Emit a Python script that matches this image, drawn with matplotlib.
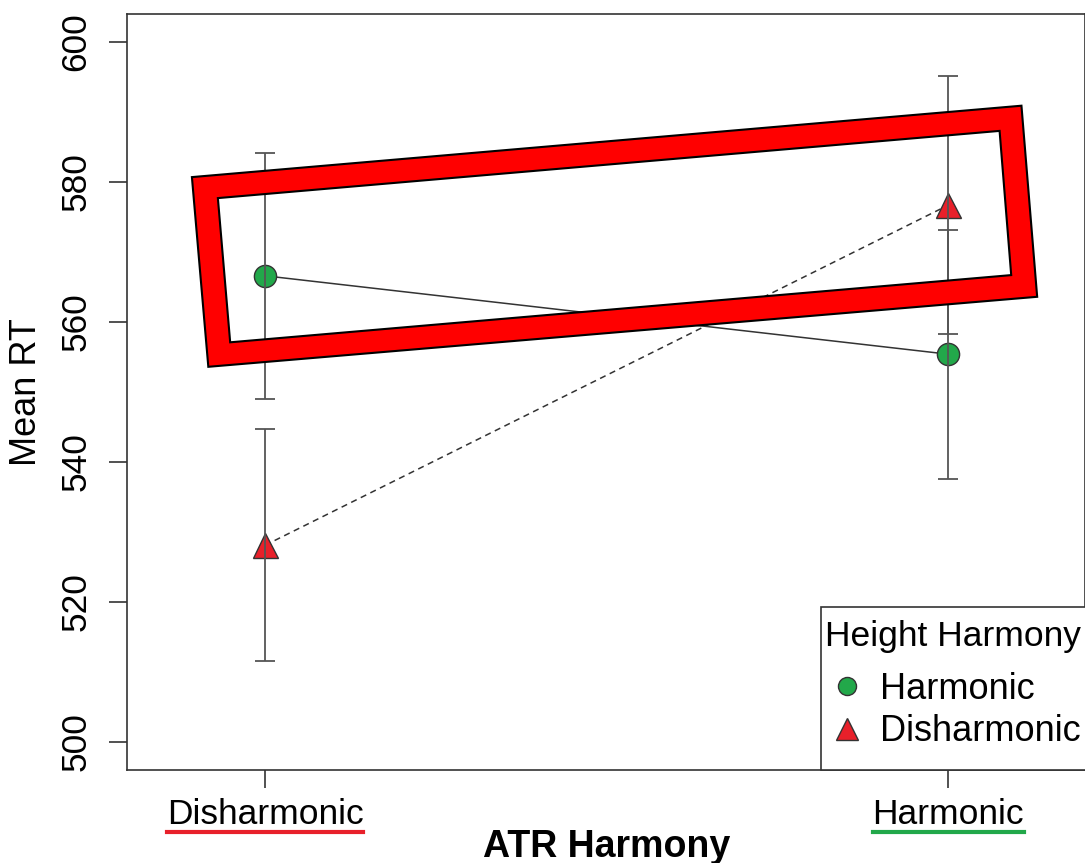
import numpy as np
import matplotlib
matplotlib.use("Agg")
import matplotlib.pyplot as plt
from matplotlib.path import Path
from matplotlib.patches import PathPatch, Rectangle
from matplotlib.lines import Line2D

plt.rcParams["font.family"] = ["Liberation Sans", "DejaVu Sans"]

# Data
atr_levels = ["Disharmonic", "Harmonic"]
x_pos = [1, 2]
harmonic_mean = [566.6, 555.4]
harmonic_err = [17.6, 17.8]
disharmonic_mean = [528.1, 576.7]
disharmonic_err = [16.6, 18.4]
underline_colors = ["#E8202A", "#22A84A"]

green = "#22A84A"
red = "#E8202A"

fig = plt.figure(figsize=(10.85, 8.63), dpi=100)
ax = fig.add_axes([127 / 1085, 93 / 863, 958 / 1085, 756 / 863])

# lines
ax.plot(x_pos, harmonic_mean, color="#333333", lw=1.1, zorder=2)
ax.plot(x_pos, disharmonic_mean, color="#333333", lw=1.1, ls=(0, (4, 3)), zorder=2)

# points
ax.plot(x_pos, harmonic_mean, "o", ms=16, mfc=green, mec="#333333", mew=1, zorder=3)
ax.plot(x_pos, disharmonic_mean, "^", ms=18, mfc=red, mec="#333333", mew=1, zorder=3)

# error bars on top of points
ax.errorbar(x_pos, harmonic_mean, yerr=harmonic_err, fmt="none", ecolor="#555555",
            elinewidth=1.3, capsize=7.5, capthick=1.3, zorder=4)
ax.errorbar(x_pos, disharmonic_mean, yerr=disharmonic_err, fmt="none", ecolor="#555555",
            elinewidth=1.3, capsize=7.5, capthick=1.3, zorder=4)

ax.set_xlim(0.798, 2.2)
ax.set_ylim(496, 604)
ax.set_xticks(x_pos)
ax.set_xticklabels(atr_levels, fontsize=25.5)
ax.set_yticks(np.arange(500, 601, 20))
ax.tick_params(axis="y", labelsize=25.5, length=13, width=1.2, color="#333333", pad=12,
               labelrotation=90)
ax.tick_params(axis="x", length=13, width=1.2, color="#333333", pad=7)
for lab in ax.get_yticklabels():
    lab.set_va("center")
for sp in ax.spines.values():
    sp.set_color("#333333")
    sp.set_linewidth(1.2)

ax.set_ylabel("Mean RT", fontsize=26)
ax.yaxis.set_label_coords(-0.087, 0.5)
ax.set_xlabel("ATR Harmony", fontsize=27, fontweight="bold")
ax.xaxis.set_label_coords(0.501, -0.078)

# highlight frame (annotation)
outer = [(0.893, 580.7), (2.107, 590.9), (2.130, 563.6), (0.917, 553.6)]
inner = [(0.931, 577.7), (2.075, 587.3), (2.092, 566.7), (0.949, 557.1)]
verts = outer + [outer[0]] + inner[::-1] + [inner[-1]]
codes = ([Path.MOVETO] + [Path.LINETO] * 3 + [Path.CLOSEPOLY]) * 2
frame = PathPatch(Path(verts, codes), facecolor="#FF0000", edgecolor="black",
                  lw=1.5, zorder=5, clip_on=False)
ax.add_patch(frame)

# legend box (runs past the right edge of the picture, as in the original)
ax.add_patch(Rectangle((0.7244, 0.0), 0.3, 0.2156, transform=ax.transAxes,
                       facecolor="white", edgecolor="#333333", lw=1.2,
                       zorder=6, clip_on=False))
handles = [
    Line2D([], [], ls="none", marker="o", ms=13, mfc=green, mec="#333333", mew=1),
    Line2D([], [], ls="none", marker="^", ms=16, mfc=red, mec="#333333", mew=1),
]
leg = ax.legend(handles, ["Harmonic", "Disharmonic"], title="Height Harmony",
                loc="upper left", bbox_to_anchor=(0.7286, 0.199), borderaxespad=0,
                fontsize=26, title_fontsize=25.5, frameon=False,
                handlelength=1.2, handletextpad=0.33,
                labelspacing=0.2, borderpad=0.0, alignment="left")
leg._legend_box.sep = 14
leg.set_zorder(7)

# coloured underlines below the x tick labels
fig.canvas.draw()
inv = fig.transFigure.inverted()
for lab, col in zip(ax.get_xticklabels(), underline_colors):
    bb = lab.get_window_extent()
    (x0, y0), (x1, y1) = inv.transform([(bb.x0, bb.y0), (bb.x1, bb.y0)])
    fig.add_artist(Line2D([x0, x1], [y0 - 0.001, y1 - 0.001], color=col, lw=3,
                          transform=fig.transFigure))

fig.savefig("out.png", dpi=100)
